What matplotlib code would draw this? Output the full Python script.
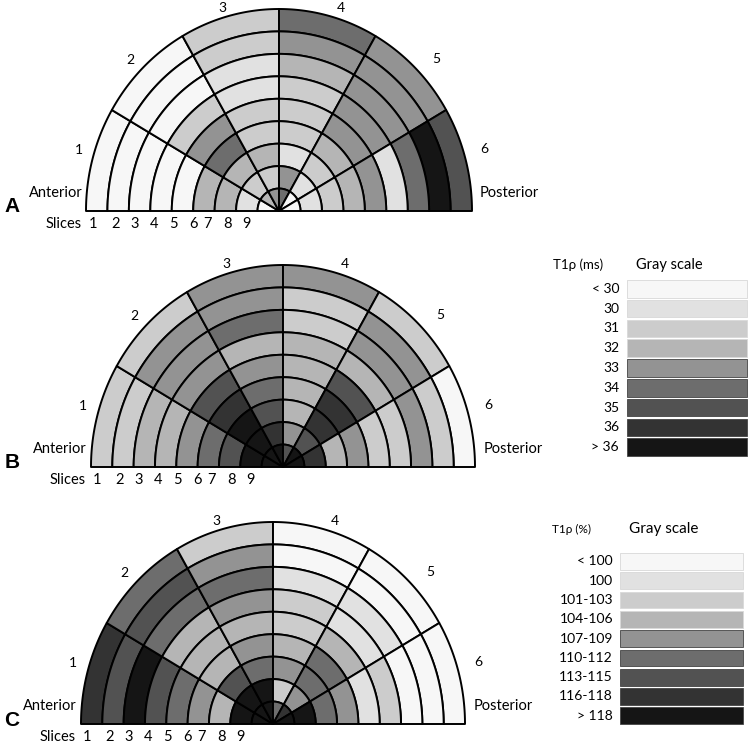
import numpy as np
import matplotlib
matplotlib.use('Agg')
import matplotlib.pyplot as plt
from matplotlib.patches import Polygon, Rectangle

plt.rcParams['font.family'] = ['Lato', 'DejaVu Sans']

# 灰度等级（0 最浅 ... 8 最深）
gray_levels = ['#f7f7f7', '#e1e1e1', '#cccccc', '#b5b5b5', '#939393',
               '#6d6d6d', '#525252', '#333333', '#151515']

# 每个面板：6 个扇区（1 前 -> 6 后），每个扇区 9 个切片（1 外 -> 9 内）
panel_a = [
    [0, 0, 0, 0, 0, 3, 3, 1, 0],
    [0, 0, 0, 2, 4, 5, 3, 2, 3],
    [2, 2, 1, 1, 2, 2, 3, 2, 4],
    [5, 4, 3, 2, 2, 2, 1, 4, 5],
    [4, 4, 4, 4, 4, 3, 2, 1, 0],
    [6, 8, 5, 1, 4, 3, 2, 1, 0],
]
panel_b = [
    [2, 2, 3, 3, 4, 5, 6, 8, 8],
    [2, 4, 4, 4, 6, 7, 8, 8, 8],
    [4, 4, 5, 3, 4, 5, 6, 7, 8],
    [4, 2, 2, 3, 3, 3, 3, 4, 6],
    [2, 4, 4, 3, 6, 7, 7, 6, 8],
    [0, 2, 4, 2, 2, 4, 3, 7, 8],
]
panel_c = [
    [7, 6, 8, 6, 5, 4, 3, 8, 8],
    [5, 6, 5, 3, 3, 3, 6, 8, 8],
    [2, 4, 5, 4, 3, 4, 5, 8, 8],
    [0, 0, 1, 2, 2, 3, 4, 2, 5],
    [0, 0, 1, 1, 3, 5, 5, 4, 7],
    [0, 0, 0, 2, 1, 4, 5, 8, 8],
]

sector_names = ['1', '2', '3', '4', '5', '6']
slice_names = ['1', '2', '3', '4', '5', '6', '7', '8', '9']
legend_b_labels = ['< 30', '30', '31', '32', '33', '34', '35', '36', '> 36']
legend_c_labels = ['< 100', '100', '101-103', '104-106', '107-109',
                   '110-112', '113-115', '116-118', '> 118']

fig = plt.figure(figsize=(7.51, 7.46), dpi=100)
ax = fig.add_axes([0, 0, 1, 1])
ax.set_xlim(0, 751)
ax.set_ylim(746, 0)
ax.axis('off')


def cell(cx, cy, rx, ry, r0, r1, t0, t1):
    t = np.radians(np.linspace(t0, t1, 40))
    xo = cx + rx * r1 * np.cos(t)
    yo = cy - ry * r1 * np.sin(t)
    xi = cx + rx * r0 * np.cos(t[::-1])
    yi = cy - ry * r0 * np.sin(t[::-1])
    return np.column_stack([np.r_[xo, xi], np.r_[yo, yi]])


def draw_panel(data, cx, cy, rx, ry, letter):
    n = len(slice_names)
    for j, sector in enumerate(data):
        t0 = 180 - 30 * j
        t1 = 180 - 30 * (j + 1)
        for k, lev in enumerate(sector):
            r1 = (n - k) / n
            r0 = (n - k - 1) / n
            ax.add_patch(Polygon(cell(cx, cy, rx, ry, r0, r1, t0, t1), closed=True,
                                 facecolor=gray_levels[lev], edgecolor='black',
                                 linewidth=1.4, joinstyle='round'))
    # 扇区编号
    lab_pos = [(-200, -61), (-149, -151), (-57, -203), (62, -203), (157, -152), (205, -62)]
    for name, (dx, dy) in zip(sector_names, lab_pos):
        ax.text(cx + dx, cy + dy, name, fontsize=10, ha='center', va='center')
    ax.text(cx - 196, cy - 18, 'Anterior', fontsize=10.5, ha='right', va='center')
    ax.text(cx + 201, cy - 18, 'Posterior', fontsize=10.5, ha='left', va='center')
    ax.text(12, cy - 4, letter, fontsize=15, fontweight='bold', ha='center', va='center',
            family='Liberation Sans')
    # 切片编号
    ax.text(cx - 197, cy + 13, 'Slices', fontsize=10.5, ha='right', va='center')
    offs = [-186, -163, -144, -125, -106, -86, -71, -52, -33]
    for name, dx in zip(slice_names, offs):
        ax.text(cx + dx, cy + 13, name, fontsize=10.5, ha='center', va='center')


draw_panel(panel_a, 279, 211, 193, 202, 'A')
draw_panel(panel_b, 283, 467, 192, 202, 'B')
draw_panel(panel_c, 273, 724, 192, 202, 'C')


def draw_legend(labels, title, title_x, head_y, label_x, box_x0, box_x1, y0, pitch, h,
                title_size, head_size):
    ax.text(title_x, head_y, title, fontsize=title_size, ha='left', va='center')
    ax.text(box_x0 + 9, head_y, 'Gray scale', fontsize=head_size, ha='left', va='center')
    for i, lab in enumerate(labels):
        y = y0 + i * pitch
        ax.add_patch(Rectangle((box_x0, y), box_x1 - box_x0, h, facecolor=gray_levels[i],
                               edgecolor='#d8d8d8' if i < 4 else '#444444', linewidth=0.6))
        ax.text(label_x, y + h / 2, lab, fontsize=10, ha='right', va='center')


draw_legend(legend_b_labels, 'T1ρ (ms)', 553, 265, 619, 627, 747, 280, 19.8, 17.5, 9.5, 10.5)
draw_legend(legend_c_labels, 'T1ρ (%)', 552, 529, 613, 620, 743, 553, 19.3, 16.8, 8.5, 11)

fig.savefig('out.png', dpi=100, facecolor='white')
